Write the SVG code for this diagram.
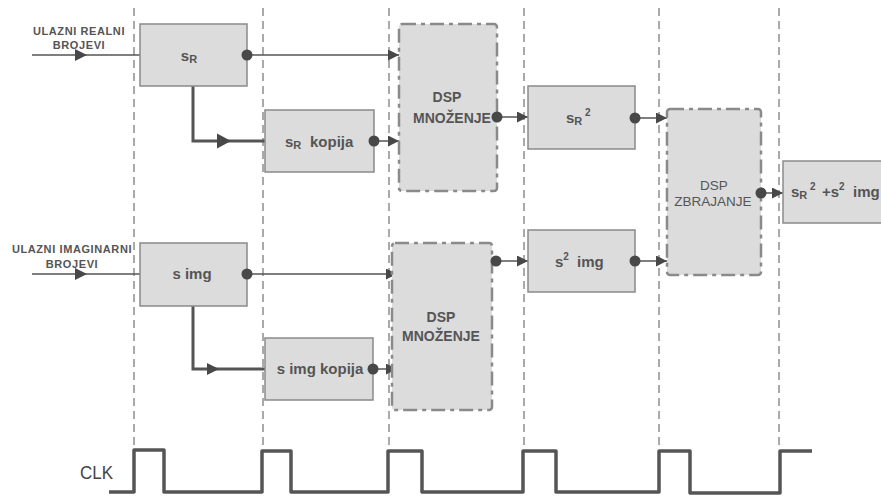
<svg xmlns="http://www.w3.org/2000/svg" width="881" height="497" viewBox="0 0 881 497">
<style>
.box{fill:#dcdcdc;stroke:#8a8a8a;stroke-width:1.5}
.dsp{fill:#dcdcdc;stroke:#8a8a8a;stroke-width:2.5;stroke-dasharray:14,5,4,5}
.grid{stroke:#555;stroke-width:1;stroke-dasharray:8,5;fill:none}
.ln{stroke:#555;stroke-width:1.5;fill:none}
.thick{stroke:#555;stroke-width:3;fill:none}
.t{font-family:"Liberation Sans",Arial,sans-serif;font-weight:bold;font-size:15px;fill:#555}
.d{font-family:"Liberation Sans",Arial,sans-serif;font-weight:bold;font-size:14px;fill:#555}
.r{font-family:"Liberation Sans",Arial,sans-serif;font-size:13.5px;fill:#555}
.lbl{font-family:"Liberation Sans",Arial,sans-serif;font-weight:bold;font-size:11px;fill:#555;text-anchor:middle;letter-spacing:0.6px}
.c{text-anchor:middle}
.dot{fill:#484848}
.tri{fill:#484848}
</style>
<defs>
<marker id="ah" markerUnits="userSpaceOnUse" markerWidth="11" markerHeight="11" refX="11" refY="5.5" orient="auto">
<path d="M0,0 L11,5.5 L0,11 z" fill="#484848"/>
</marker>
<path id="mid" d="M-6,-6 L6,0 L-6,6 z" class="tri"/>
<path id="midb" d="M-7,-7.5 L7,0 L-7,7.5 z" class="tri"/>
</defs>

<g id="grid">
<line class="grid" x1="134" y1="8" x2="134" y2="448"/>
<line class="grid" x1="263" y1="8" x2="263" y2="448"/>
<line class="grid" x1="389" y1="8" x2="389" y2="448"/>
<line class="grid" x1="524" y1="8" x2="524" y2="448"/>
<line class="grid" x1="659" y1="8" x2="659" y2="448"/>
<line class="grid" x1="779" y1="8" x2="779" y2="448"/>
</g>

<g id="labels">
<text class="lbl" x="79" y="35">ULAZNI REALNI</text>
<text class="lbl" x="79" y="49">BROJEVI</text>
<text class="lbl" x="72" y="253">ULAZNI IMAGINARNI</text>
<text class="lbl" x="72" y="268">BROJEVI</text>
</g>

<g id="connectors">
<line class="ln" x1="32" y1="55" x2="140" y2="55"/>
<use href="#mid" x="81" y="55"/>
<line class="ln" x1="247" y1="55" x2="399" y2="55" marker-end="url(#ah)"/>
<polyline class="thick" points="193,86 193,141 265,141"/>
<use href="#midb" x="224" y="141"/>
<line class="ln" x1="374" y1="141" x2="399" y2="141" marker-end="url(#ah)"/>
<line class="ln" x1="497" y1="117" x2="528" y2="117" marker-end="url(#ah)"/>
<line class="ln" x1="635" y1="118" x2="667" y2="118" marker-end="url(#ah)"/>
<line class="ln" x1="761" y1="193" x2="783" y2="193" marker-end="url(#ah)"/>
<line class="ln" x1="32" y1="274" x2="140" y2="274"/>
<use href="#mid" x="81" y="274"/>
<line class="ln" x1="247" y1="274" x2="397" y2="274" marker-end="url(#ah)"/>
<polyline class="thick" points="193,306 193,369 265,369"/>
<use href="#mid" x="213" y="369"/>
<line class="ln" x1="373" y1="369" x2="397" y2="369" marker-end="url(#ah)"/>
<line class="ln" x1="496" y1="261" x2="528" y2="261" marker-end="url(#ah)"/>
<line class="ln" x1="635" y1="261" x2="667" y2="261" marker-end="url(#ah)"/>
</g>

<g id="sR">
<rect class="box" x="140" y="24" width="107" height="62"/>
<text class="t c" x="189" y="61">s<tspan font-size="11" dy="2">R</tspan></text>
<circle class="dot" cx="247" cy="55" r="5.5"/>
</g>

<g id="sR-kopija">
<rect class="box" x="265" y="110" width="109" height="62"/>
<text class="t" x="285" y="147">s<tspan font-size="11" dy="2">R</tspan><tspan x="310" dy="-2">kopija</tspan></text>
<circle class="dot" cx="374" cy="141" r="5.5"/>
</g>

<g id="dsp-mnozenje-1">
<rect class="dsp" x="399" y="24" width="98" height="167" rx="3"/>
<text class="d c" x="447" y="102">DSP</text>
<text class="d c" x="452" y="123">MNOŽENJE</text>
<circle class="dot" cx="497" cy="117" r="5.5"/>
</g>

<g id="sR2">
<rect class="box" x="528" y="86" width="107" height="63"/>
<text class="t" x="566" y="123">s<tspan font-size="11" dy="2">R</tspan><tspan font-size="10" x="585" dy="-9">2</tspan></text>
<circle class="dot" cx="635" cy="118" r="5.5"/>
</g>

<g id="dsp-zbrajanje">
<rect class="dsp" x="667" y="109" width="94" height="166" rx="3"/>
<text class="r c" x="714" y="190">DSP</text>
<text class="r c" x="713" y="206">ZBRAJANJE</text>
<circle class="dot" cx="761" cy="193" r="5.5"/>
</g>

<g id="rezultat">
<rect class="box" x="783" y="161" width="110" height="62"/>
<text class="t" x="791" y="197">s<tspan font-size="11" dy="2">R</tspan><tspan font-size="10" x="810" dy="-9">2</tspan><tspan x="822" dy="7">+s</tspan><tspan font-size="10" dy="-7">2</tspan><tspan x="853" dy="7">img</tspan></text>
</g>

<g id="s-img">
<rect class="box" x="140" y="243" width="107" height="63"/>
<text class="t c" x="192" y="279">s img</text>
<circle class="dot" cx="247" cy="274" r="5.5"/>
</g>

<g id="s-img-kopija">
<rect class="box" x="265" y="338" width="108" height="62"/>
<text class="t c" x="320" y="374">s img kopija</text>
<circle class="dot" cx="373" cy="369" r="5.5"/>
</g>

<g id="dsp-mnozenje-2">
<rect class="dsp" x="392" y="243" width="100" height="167" rx="3"/>
<text class="d c" x="441" y="322">DSP</text>
<text class="d c" x="441" y="341">MNOŽENJE</text>
<circle class="dot" cx="496" cy="261" r="5.5"/>
</g>

<g id="s2-img">
<rect class="box" x="528" y="230" width="107" height="62"/>
<text class="t" x="555" y="267">s<tspan font-size="10" dy="-7">2</tspan><tspan x="577" dy="7">img</tspan></text>
<circle class="dot" cx="635" cy="261" r="5.5"/>
</g>

<g id="clk">
<text x="80" y="479" font-family="Liberation Sans,Arial,sans-serif" font-size="19" fill="#444" textLength="33" lengthAdjust="spacingAndGlyphs">CLK</text>
<polyline fill="none" stroke="#555" stroke-width="3.5" stroke-linejoin="round" points="109,492 134,492 134,450 164,450 164,492 262,492 262,451 291,451 291,492 388,492 388,451 422,451 422,492 523,492 523,451 556,451 556,492 659,492 659,451 690,451 690,493 780,493 780,451 812,451"/>
</g>
</svg>
